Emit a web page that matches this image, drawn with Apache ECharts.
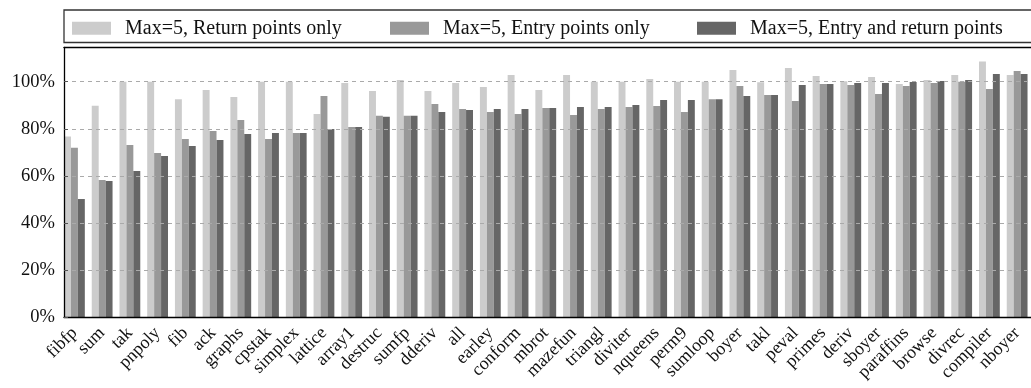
<!DOCTYPE html>
<html><head><meta charset="utf-8">
<script src="https://cdn.jsdelivr.net/npm/echarts@6/dist/echarts.min.js"></script>
<style>html,body{margin:0;padding:0;background:#fff}#c{width:1031px;height:388px}</style>
</head><body><div id="c"></div>
<script>
// ---- data ----
const categories = ['fibfp','sum','tak','pnpoly','fib','ack','graphs','cpstak','simplex','lattice','array1','destruc','sumfp','dderiv','all','earley','conform','mbrot','mazefun','triangl','diviter','nqueens','perm9','sumloop','boyer','takl','peval','primes','deriv','sboyer','paraffins','browse','divrec','compiler','nboyer'];
const returnOnly     = [76.7,89.8,100.0,100.0,92.6,96.5,93.5,100.0,100.0,86.3,99.5,96.1,100.7,96.1,99.5,97.8,102.8,96.5,102.8,100.0,100.0,101.1,100.0,100.0,105.0,99.8,105.8,102.4,100.2,102.0,99.0,100.7,102.8,108.6,102.8];
const entryOnly      = [72.0,58.3,73.1,69.7,75.7,79.1,83.7,75.7,78.2,93.9,80.8,85.5,85.5,90.5,88.4,87.1,86.3,88.8,85.9,88.4,89.3,89.7,87.1,92.6,98.2,94.4,91.8,99.0,98.6,94.8,98.2,99.5,100.0,96.9,104.5];
const entryAndReturn = [50.2,57.9,62.1,68.5,72.7,75.3,77.8,78.2,78.2,79.9,80.8,85.1,85.5,87.1,88.0,88.4,88.4,88.8,89.3,89.3,90.1,92.2,92.2,92.6,93.9,94.4,98.6,99.0,99.5,99.5,99.9,100.3,100.7,103.3,103.3];
const seriesNames = ['Max=5, Return points only','Max=5, Entry points only','Max=5, Entry and return points'];
const yTicks = [0,20,40,60,80,100];

// ---- layout / style ----
const colors = ['#cccccc','#999999','#666666'];
const axisX = 64, bandW = 27.88, firstCenter = 74.5;
const dataLeft = firstCenter - bandW / 2;
const plotTop = 47.3, plotBottom = 317.3, H = 388;
const yMax = 114.6;
const serif = 'Liberation Serif';

const chart = echarts.init(document.getElementById('c'), null, {renderer:'canvas'});
const legendLefts = [72, 390, 697];

chart.setOption({
  animation: false,
  backgroundColor: '#fff',
  graphic: [{
    type: 'rect', z: 10, silent: true,
    shape: {x: axisX, y: 10, width: 1000, height: 32.5},
    style: {fill: 'none', stroke: '#333', lineWidth: 1.3}
  }],
  legend: seriesNames.map((n, i) => ({
    data: [n], left: legendLefts[i], top: 18.3, padding: 0,
    itemWidth: 39, itemHeight: 13, icon: 'rect', selectedMode: false,
    textStyle: {fontFamily: serif, fontSize: 20, color: '#111', padding: [0,0,0,9]}
  })),
  grid: [
    {left: axisX, top: plotTop, right: -20, bottom: H - plotBottom, containLabel: false},
    {left: dataLeft, top: plotTop, width: categories.length * bandW, bottom: H - plotBottom, containLabel: false}
  ],
  xAxis: [
    {gridIndex: 0, type: 'value', min: 0, max: 1, z: 5,
     axisLine: {show: true, lineStyle: {color: '#000', width: 1.3}},
     axisTick: {show: false}, axisLabel: {show: false}, splitLine: {show: false}},
    {gridIndex: 0, type: 'value', min: 0, max: 1, position: 'top', z: 5,
     axisLine: {show: true, lineStyle: {color: '#000', width: 1.3}},
     axisTick: {show: false}, axisLabel: {show: false}, splitLine: {show: false}},
    {gridIndex: 1, type: 'category', data: categories,
     axisLine: {show: false}, axisTick: {show: false}, splitLine: {show: false},
     axisLabel: {interval: 0, rotate: 45, margin: 13, fontFamily: serif, fontSize: 18, color: '#111'}}
  ],
  yAxis: [
    {gridIndex: 0, type: 'value', min: 0, max: yMax, interval: 20, z: 5,
     axisLine: {show: true, lineStyle: {color: '#000', width: 1.3}},
     axisTick: {show: true, inside: true, length: 4, lineStyle: {color: '#555'}},
     axisLabel: {margin: 9, fontFamily: serif, fontSize: 18.5, color: '#111', showMaxLabel: false,
       formatter: v => yTicks.includes(v) ? v + '%' : ''},
     splitLine: {show: true, lineStyle: {color: '#aaaaaa', width: 1, type: [4, 4]}}},
    {gridIndex: 1, type: 'value', min: 0, max: yMax, interval: 20, show: false}
  ],
  series: [returnOnly, entryOnly, entryAndReturn].map((d, i) => ({
    name: seriesNames[i], type: 'bar', xAxisIndex: 2, yAxisIndex: 1,
    data: d, itemStyle: {color: colors[i]},
    barGap: '0%', barCategoryGap: '25%'
  }))
});
</script></body></html>
